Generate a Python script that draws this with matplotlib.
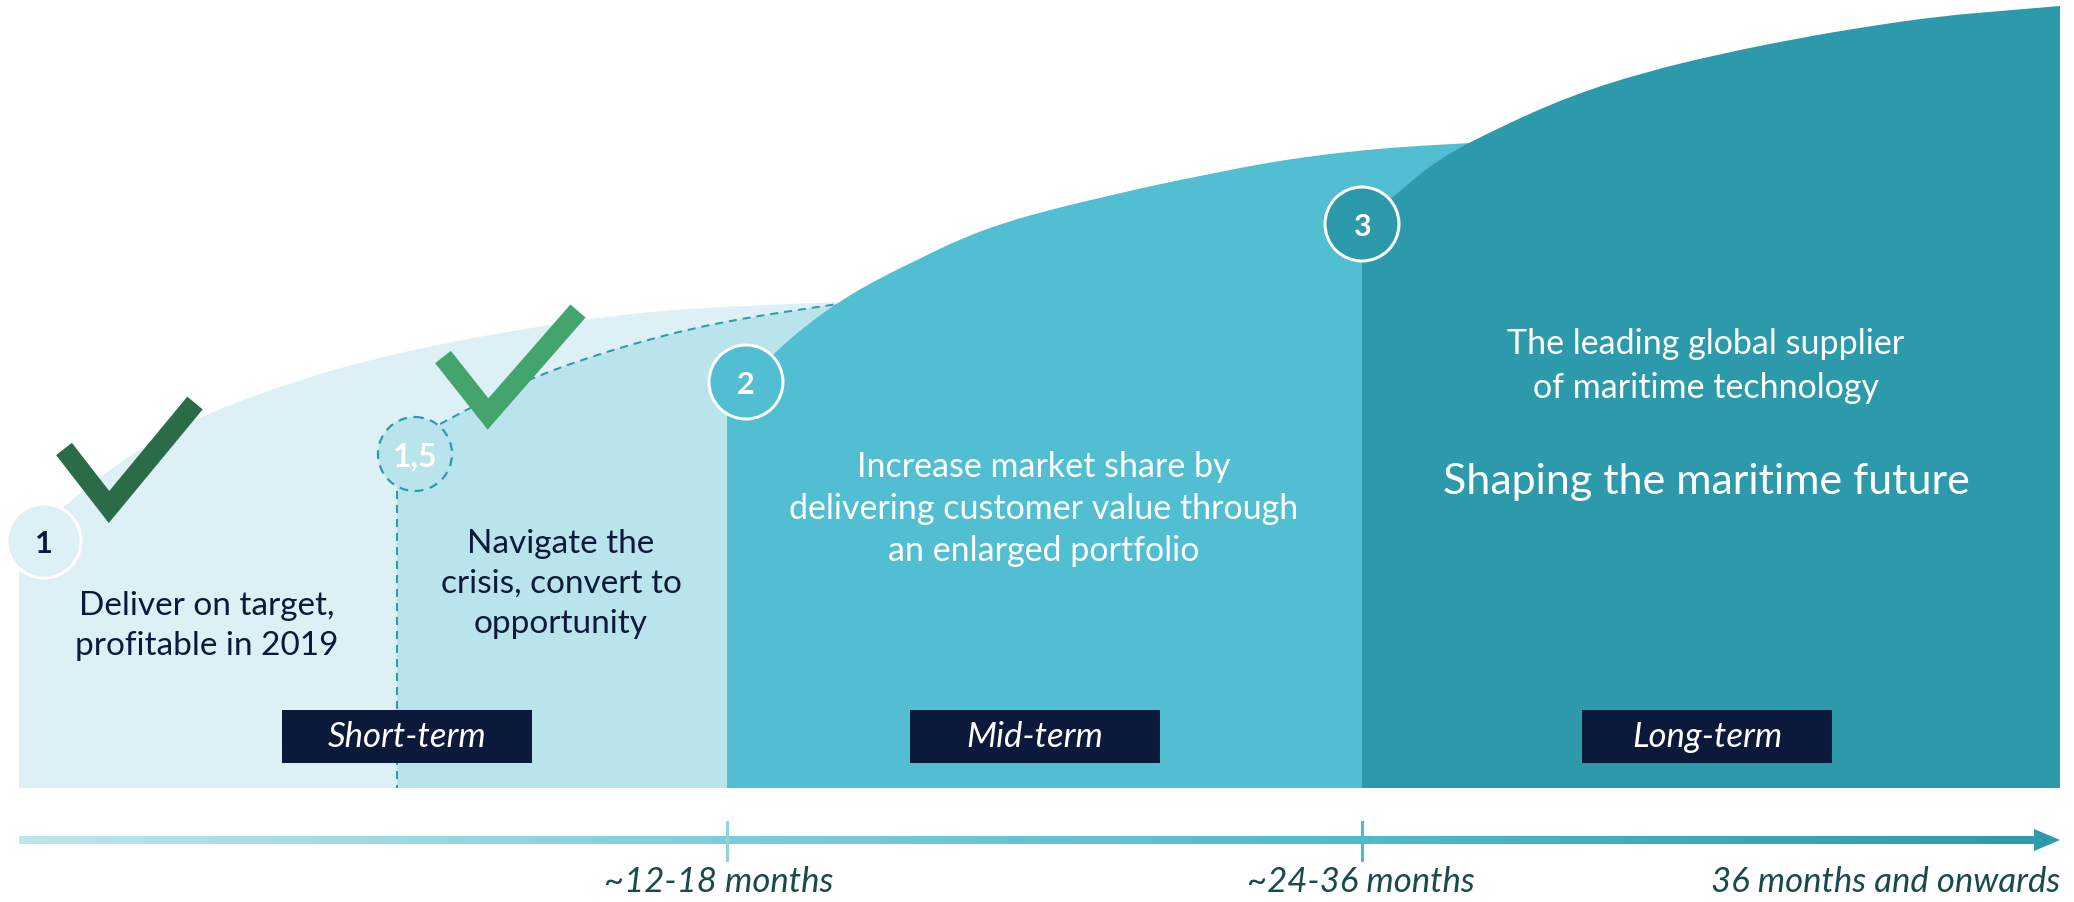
import matplotlib
matplotlib.use("Agg")
import matplotlib.pyplot as plt
import numpy as np
from matplotlib.patches import Polygon, Circle, Rectangle, PathPatch
from matplotlib.path import Path
from matplotlib.colors import LinearSegmentedColormap

plt.rcParams['font.family'] = ['Lato', 'DejaVu Sans']

# colours
light = '#DDF0F5'
light2 = '#B9E4EB'
mid = '#52BED1'
dark = '#2C9AAB'
navy = '#0B1A3B'
labelcol = '#184A50'

# stage layout (pixel space of the slide)
left, bottom, right = 19, 789, 2060
x_15, x_2, x_3 = 397, 727, 1362

# top curves of each stage
curve1_x = [19, 44, 63, 133, 200, 300, 400, 520, 640, 740, 838]
curve1_y = [570, 530, 507, 453, 417, 380, 353, 330, 313, 307, 303]
curve15_x = [440, 490, 537, 590, 640, 690, 740, 790, 838]
curve15_y = [425, 398, 377, 358, 343, 330, 320, 312, 305]
curve2_x = [746, 771, 805, 843, 880, 919, 960, 1006, 1057, 1108, 1160, 1210, 1260, 1312, 1365, 1414, 1470]
curve2_y = [383, 357, 327, 300, 279, 260, 240, 223, 209, 197, 185, 175, 165, 157, 151, 147, 144]
curve3_x = [1362, 1394, 1438, 1500, 1570, 1645, 1720, 1794, 1870, 1942, 2000, 2060]
curve3_y = [225, 197, 160, 128, 97, 73, 55, 40, 27, 17, 12, 7]

# circles: label, x, y, fill, text colour, dashed
circles = [('1', 44, 542, light, navy, False),
           ('1,5', 415, 455, light2, 'white', True),
           ('2', 746, 383, mid, 'white', False),
           ('3', 1362, 225, dark, 'white', False)]
radius = 37

# check marks
check1_x, check1_y = [64, 109, 195], [450, 508, 404]
check2_x, check2_y = [443, 488, 578], [358, 415, 312]

# stage texts: text, x, y, colour, size, linespacing
texts = [("Deliver on target,\nprofitable in 2019", 207, 626, navy, 24, 1.45),
         ("Navigate the\ncrisis, convert to\nopportunity", 561, 584, navy, 24, 1.42),
         ("Increase market share by\ndelivering customer value through\nan enlarged portfolio", 1044, 509, 'white', 24.5, 1.40),
         ("The leading global supplier\nof maritime technology", 1706, 366, 'white', 24.5, 1.45),
         ("Shaping the maritime future", 1706, 482, 'white', 31, 1.2)]

terms = ['Short-term', 'Mid-term', 'Long-term']
term_x = [282, 910, 1582]
term_w, term_y0, term_y1 = 250, 711, 764

timeline_labels = ['~12-18 months', '~24-36 months', '36 months and onwards']
timeline_x = [719, 1361, 2060]
timeline_ha = ['center', 'center', 'right']

fig = plt.figure(figsize=(20.74, 9.03), dpi=100)
ax = fig.add_axes([0, 0, 1, 1])
ax.set_xlim(0, 2074)
ax.set_ylim(903, 0)
ax.axis('off')

px = 0.72  # px -> pt


def smooth(xs, ys):
    # quadratic bezier chain through the midpoints of the read points
    pts = list(zip(xs, ys))
    verts, codes = [pts[0]], [Path.LINETO]
    for i in range(1, len(pts) - 1):
        m = ((pts[i][0] + pts[i + 1][0]) / 2, (pts[i][1] + pts[i + 1][1]) / 2)
        if i == len(pts) - 2:
            m = pts[-1]
        verts += [pts[i], m]
        codes += [Path.CURVE3, Path.CURVE3]
    return verts, codes


def area(start, xs, ys, end):
    v, c = smooth(xs, ys)
    verts = list(start) + v + list(end) + [start[0]]
    codes = [Path.MOVETO] + [Path.LINETO] * (len(start) - 1) + c + [Path.LINETO] * len(end) + [Path.CLOSEPOLY]
    return Path(verts, codes)


# stage areas
ax.add_patch(PathPatch(area([(left, bottom)], curve1_x, curve1_y, [(curve1_x[-1], bottom)]),
                       fc=light, ec='none', zorder=1))
ax.add_patch(PathPatch(area([(x_15, bottom), (x_15, 470), (415, 455)], curve15_x, curve15_y,
                            [(curve15_x[-1], bottom)]), fc=light2, ec='none', zorder=2))
ax.add_patch(PathPatch(area([(x_2, bottom), (x_2, 400)], curve2_x, curve2_y, [(curve2_x[-1], bottom)]),
                       fc=mid, ec='none', zorder=3))
ax.add_patch(PathPatch(area([(x_3, bottom)], curve3_x, curve3_y, [(right, bottom)]),
                       fc=dark, ec='none', zorder=4))

# dashed lines of stage 1,5
v, c = smooth(curve15_x, curve15_y)
c[0] = Path.MOVETO
ax.add_patch(PathPatch(Path(v, c), fill=False, ec=dark, lw=2 * px, ls=(0, (4, 3)), zorder=2.5))
ax.plot([x_15, x_15], [455 + radius, bottom], color=dark, lw=2 * px, ls=(0, (4, 3)), zorder=2.5)

# circles
for lab, cx, cy, fc, tc, dashed in circles:
    if dashed:
        c = Circle((cx, cy), radius, fc=fc, ec=dark, lw=2.2 * px, ls=(0, (4, 3)), zorder=6)
        fs = 23
    else:
        c = Circle((cx, cy), radius, fc=fc, ec='white', lw=3 * px, zorder=6)
        fs = 22
    ax.add_patch(c)
    ax.text(cx, cy + 2, lab, color=tc, fontsize=fs, fontweight='bold', ha='center', va='center', zorder=7)

# check marks
ax.plot(check1_x, check1_y, color='#2A6B48', lw=20 * px, solid_joinstyle='miter', solid_capstyle='butt', zorder=8)
ax.plot(check2_x, check2_y, color='#43A46E', lw=20 * px, solid_joinstyle='miter', solid_capstyle='butt', zorder=8)

# stage texts
for t, tx, ty, col, fs, ls in texts:
    ax.text(tx, ty, t, color=col, fontsize=fs, ha='center', va='center', linespacing=ls, zorder=7)

# term boxes
for lab, bx in zip(terms, term_x):
    ax.add_patch(Rectangle((bx, term_y0), term_w, term_y1 - term_y0, fc=navy, ec='none', zorder=7))
    ax.text(bx + term_w / 2, (term_y0 + term_y1) / 2, lab, color='white', fontsize=25, style='italic',
            ha='center', va='center', zorder=8)

# timeline arrow with gradient
arrow = Polygon([(left, 837), (2034, 837), (2034, 830), (2060, 841), (2034, 852), (2034, 845), (left, 845)],
                closed=True, fc='none', ec='none')
ax.add_patch(arrow)
cmap = LinearSegmentedColormap.from_list('tl', ['#BDE6EC', '#7FCFDC', '#4DB9CB', dark])
grad = np.linspace(0, 1, 512).reshape(1, -1)
im = ax.imshow(grad, cmap=cmap, extent=(left, 2060, 855, 827), aspect='auto', zorder=5)
im.set_clip_path(arrow)
ax.set_xlim(0, 2074)
ax.set_ylim(903, 0)

for tx, col in zip([x_2, x_3], ['#8DD3DE', '#4BBCCF']):
    ax.plot([tx, tx], [823, 861], color=col, lw=3 * px, zorder=6)

for lab, tx, ha in zip(timeline_labels, timeline_x, timeline_ha):
    ax.text(tx, 882, lab, color=labelcol, fontsize=25, style='italic', ha=ha, va='center')

fig.savefig('out.png', dpi=100)
